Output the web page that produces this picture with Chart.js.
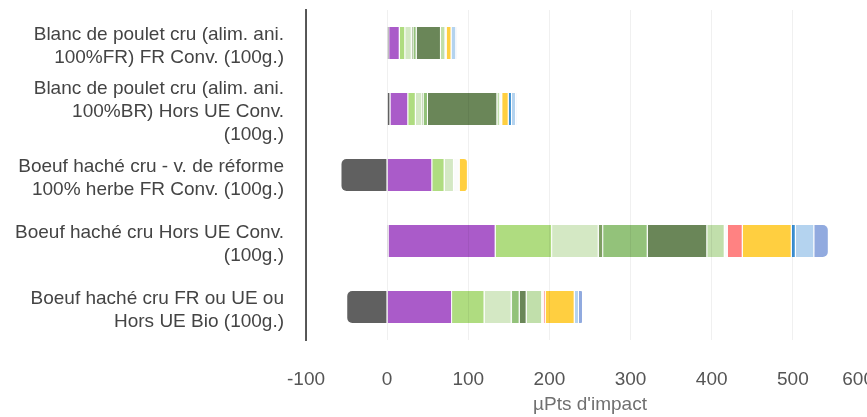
<!DOCTYPE html>
<html lang="fr">
<head>
<meta charset="utf-8">
<title>Impacts par produit</title>
<script src="https://cdn.jsdelivr.net/npm/chart.js@4/dist/chart.umd.min.js"></script>
<style>
  html, body { margin: 0; padding: 0; background: #ffffff; overflow: hidden; }
  #wrap { width: 874px; height: 417px; }
</style>
</head>
<body>
<div id="wrap"><canvas id="chart" width="874" height="417"></canvas></div>
<script>
// Products (one horizontal bar each)
const categories = [
  ["Blanc de poulet cru (alim. ani.", "100%FR) FR Conv. (100g.)"],
  ["Blanc de poulet cru (alim. ani.", "100%BR) Hors UE Conv.", "(100g.)"],
  ["Boeuf haché cru - v. de réforme", "100% herbe FR Conv. (100g.)"],
  ["Boeuf haché cru Hors UE Conv.", "(100g.)"],
  ["Boeuf haché cru FR ou UE ou", "Hors UE Bio (100g.)"]
];

// Axis
const xTicks = [-100, 0, 100, 200, 300, 400, 500, 600];
const axisTitle = "µPts d'impact";

// Impact contributions per product (µPts), in stacking order
const servicesEcosystemiques = [2.5, 4, -57.5, 1.7, -50.4];
const changementClimatique   = [13, 22, 55.6, 132, 80];
const particulesFines        = [6.8, 9.3, 15.2, 69.6, 40];
const acidification          = [8, 8, 11.5, 57.4, 33.4];
const ozone                  = [2, 1.5, 0, 5.5, 0.5];
const eutrophisationTerre    = [4, 5.5, 0, 54.9, 9.4];
const eutrophisationMarine   = [30, 85.5, 0, 73.4, 8.6];
const eutrophisationEauDouce = [5.5, 3.5, 0, 21.5, 19.1];
const rayonnements           = [1.5, 2.5, 7, 3.7, 1.9];
const toxicite               = [0, 0, 0, 18.5, 2.4];
const utilisationTerres      = [6, 8, 10.2, 60.4, 35.8];
const ressourcesEau          = [0.5, 4, 0, 5, 0.3];
const ressourcesFossiles     = [5.3, 5, 0, 22.8, 5];
const ressourcesMinerales    = [0.5, 0.5, 0, 17.9, 5];

const series = [
  { label: "Services écosystémiques", data: servicesEcosystemiques, color: "#606060" },
  { label: "Changement climatique", data: changementClimatique, color: "#aa5bc9" },
  { label: "Particules fines", data: particulesFines, color: "#afdc80" },
  { label: "Acidification", data: acidification, color: "#d4e8c4" },
  { label: "Ozone", data: ozone, color: "#7e9e63" },
  { label: "Eutrophisation terrestre", data: eutrophisationTerre, color: "#93c27a" },
  { label: "Eutrophisation marine", data: eutrophisationMarine, color: "#6a8658" },
  { label: "Eutrophisation eau douce", data: eutrophisationEauDouce, color: "#c1dfab" },
  { label: "Rayonnements ionisants", data: rayonnements, color: "#fbfbfb" },
  { label: "Toxicité", data: toxicite, color: "#ff8282" },
  { label: "Utilisation des terres", data: utilisationTerres, color: "#ffcf40" },
  { label: "Ressources en eau", data: ressourcesEau, color: "#3b8fd3" },
  { label: "Ressources fossiles", data: ressourcesFossiles, color: "#b4d3ef" },
  { label: "Ressources minérales", data: ressourcesMinerales, color: "#91aadf" }
];

const FONT = "'Liberation Sans', Arial, Helvetica, sans-serif";

// Keep the last value label of the x axis flush with the right end of the axis.
const lastTickInside = {
  id: "lastTickInside",
  beforeDraw(chart) {
    const s = chart.scales.x;
    const items = s._labelItems || (s._labelItems = s._computeLabelItems(chart.chartArea));
    if (items.length) items[items.length - 1].options.textAlign = "right";
  }
};

new Chart(document.getElementById("chart"), {
  type: "bar",
  plugins: [lastTickInside],
  data: {
    labels: categories,
    datasets: series.map(s => ({
      label: s.label,
      data: s.data,
      backgroundColor: s.color,
      borderColor: "#ffffff",
      borderWidth: 1,
      borderRadius: 6,
      barPercentage: 0.86,
      categoryPercentage: 0.6
    }))
  },
  options: {
    indexAxis: "y",
    responsive: false,
    animation: false,
    devicePixelRatio: 1,
    layout: { padding: { top: 10, left: 0, right: 0, bottom: 0 } },
    plugins: {
      legend: { display: false },
      tooltip: { enabled: false }
    },
    scales: {
      x: {
        stacked: true,
        min: xTicks[0],
        max: xTicks[xTicks.length - 1],
        afterBuildTicks: scale => { scale.ticks = xTicks.map(v => ({ value: v })); },
        afterFit: scale => {
          scale.height = 77;
          scale.paddingLeft = 0;
          scale.paddingRight = 0;
        },
        grid: { color: "rgba(0,0,0,0.06)", drawTicks: false, z: 1 },
        border: { display: false },
        ticks: {
          padding: 28,
          autoSkip: false,
          maxRotation: 0,
          color: "#555555",
          font: { family: FONT, size: 19 }
        },
        title: {
          display: true,
          text: axisTitle,
          color: "#707070",
          font: { family: FONT, size: 19 },
          padding: { top: 0, bottom: 1 }
        }
      },
      y: {
        stacked: true,
        grid: { display: false, drawTicks: false },
        border: { display: true, color: "#5a5a5a", width: 2 },
        afterFit: scale => {
          scale.width = 306;
          scale.paddingTop = 0;
          scale.paddingBottom = 0;
        },
        ticks: {
          padding: 22,
          autoSkip: false,
          labelOffset: 3,
          color: "#444444",
          font: { family: FONT, size: 19, lineHeight: 1.2 }
        }
      }
    }
  }
});
</script>
</body>
</html>
